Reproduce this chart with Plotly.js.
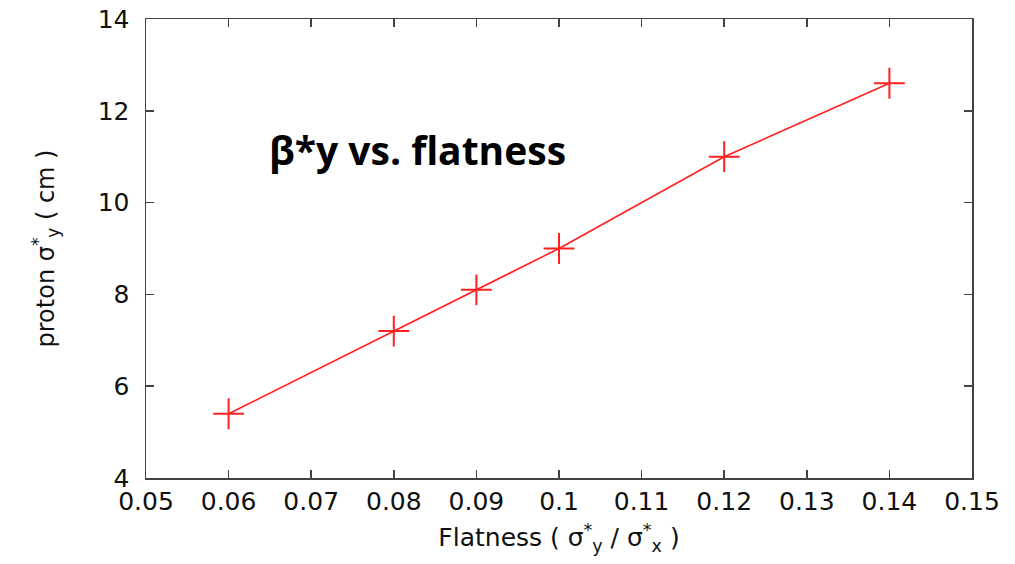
<!DOCTYPE html>
<html>
<head>
<meta charset="utf-8">
<script src="https://cdn.plot.ly/plotly-3.0.1.min.js"></script>
<style>html,body{margin:0;padding:0;background:#fff;}#chart{width:1015px;height:564px;}</style>
</head>
<body>
<div id="chart"></div>
<script>
const flatness = [0.06, 0.08, 0.09, 0.10, 0.12, 0.14];
const sigmaY = [5.4, 7.2, 8.1, 9.0, 11.0, 12.6];
const xTicks = [0.05, 0.06, 0.07, 0.08, 0.09, 0.1, 0.11, 0.12, 0.13, 0.14, 0.15];
const xTickText = ["0.05","0.06","0.07","0.08","0.09","0.1","0.11","0.12","0.13","0.14","0.15"];
const yTicks = [4, 6, 8, 10, 12, 14];

const trace = {
  x: flatness, y: sigmaY, type: 'scatter', mode: 'lines+markers',
  line: {color: '#ff2020', width: 1.6},
  marker: {symbol: 'cross-thin', size: 22, line: {color: '#ff2020', width: 2}, color: '#ff2020'},
  hoverinfo: 'none'
};
const FONT = 'DejaVu Sans, Liberation Sans, Arial, sans-serif';
const axisCommon = {
  showgrid: false, zeroline: false, showline: true, linecolor: '#444', linewidth: 1.5,
  mirror: 'ticks', ticks: 'inside', ticklen: 8, tickwidth: 1.5, tickcolor: '#444',
  tickfont: {family: FONT, size: 25, color: '#111'}
};
const layout = {
  width: 1015, height: 564,
  margin: {l: 146, r: 43, t: 19, b: 86},
  paper_bgcolor: '#fff', plot_bgcolor: '#fff',
  showlegend: false,
  xaxis: Object.assign({}, axisCommon, {
    range: [0.05, 0.15], tickmode: 'array', tickvals: xTicks, ticktext: xTickText,
    title: {text: 'Flatness ( σ<sup>*</sup><sub>y</sub> / σ<sup>*</sup><sub>x</sub> )', standoff: 14,
      font: {family: FONT, size: 25, color: '#111'}}
  }),
  yaxis: Object.assign({}, axisCommon, {
    range: [4, 14], tickmode: 'array', tickvals: yTicks, ticklabelstandoff: 10,
    title: {text: 'proton σ<sup>*</sup><sub>y</sub> ( cm )', standoff: 36,
      font: {family: FONT, size: 24, color: '#111'}}
  }),
  annotations: [{
    text: '<b>β*y vs. flatness</b>', xref: 'paper', yref: 'paper',
    x: 0.329, y: 0.715, xanchor: 'center', yanchor: 'middle', showarrow: false,
    font: {family: 'Open Sans, Lato, sans-serif', size: 39, color: '#000'}
  }]
};
Plotly.newPlot('chart', [trace], layout, {staticPlot: true, displayModeBar: false});
</script>
</body>
</html>
